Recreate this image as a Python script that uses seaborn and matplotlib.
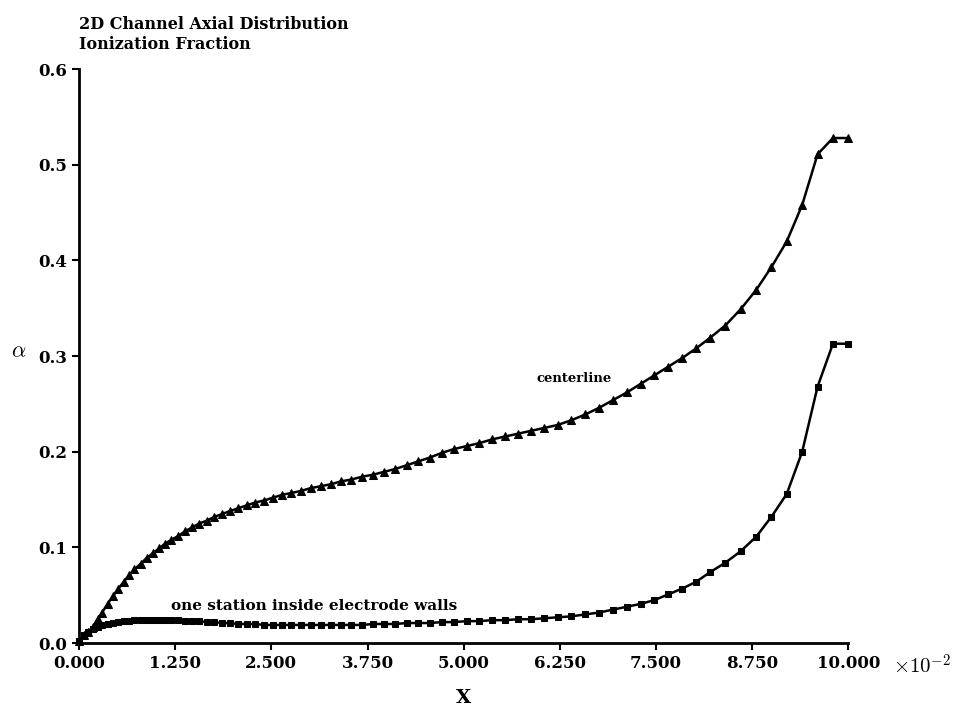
import matplotlib
matplotlib.use("Agg")
import matplotlib.pyplot as plt
import seaborn as sns
import pandas as pd

# x positions (units of 1e-2)
x_grid = [0.00, 0.06, 0.12, 0.18, 0.24, 0.30, 0.37, 0.44, 0.51, 0.58, 0.65, 0.72,
          0.80, 0.88, 0.96, 1.04, 1.12, 1.20, 1.29, 1.38, 1.47, 1.56, 1.66, 1.76,
          1.86, 1.96, 2.07, 2.18, 2.29, 2.40, 2.52, 2.64, 2.76, 2.88, 3.01, 3.14,
          3.27, 3.40, 3.54, 3.68, 3.82, 3.96, 4.11, 4.26, 4.41, 4.56, 4.72, 4.88,
          5.04, 5.20, 5.37, 5.54, 5.71, 5.88, 6.05, 6.22, 6.40, 6.58, 6.76, 6.94,
          7.12, 7.30, 7.48, 7.66, 7.84, 8.02, 8.20, 8.40, 8.60, 8.80, 9.00, 9.20,
          9.40, 9.60, 9.80, 10.00]

centerline = [0.002, 0.008, 0.012, 0.017, 0.025, 0.032, 0.041, 0.049, 0.057, 0.064, 0.071, 0.077,
              0.083, 0.089, 0.094, 0.099, 0.104, 0.108, 0.112, 0.117, 0.121, 0.125, 0.128, 0.132,
              0.135, 0.138, 0.141, 0.144, 0.147, 0.149, 0.152, 0.155, 0.157, 0.159, 0.162, 0.164,
              0.166, 0.169, 0.171, 0.174, 0.176, 0.179, 0.182, 0.186, 0.190, 0.194, 0.199, 0.203,
              0.206, 0.209, 0.213, 0.216, 0.219, 0.222, 0.225, 0.228, 0.233, 0.239, 0.246, 0.254,
              0.262, 0.271, 0.280, 0.289, 0.298, 0.308, 0.319, 0.332, 0.349, 0.369, 0.393, 0.420,
              0.458, 0.511, 0.528, 0.528]

wall_station = [0.002, 0.008, 0.012, 0.015, 0.017, 0.019, 0.020, 0.021, 0.022, 0.023, 0.023, 0.024,
                0.024, 0.024, 0.024, 0.024, 0.024, 0.024, 0.024, 0.023, 0.023, 0.023, 0.022, 0.022,
                0.021, 0.021, 0.020, 0.020, 0.020, 0.019, 0.019, 0.019, 0.019, 0.019, 0.019, 0.019,
                0.019, 0.019, 0.019, 0.019, 0.020, 0.020, 0.020, 0.021, 0.021, 0.021, 0.022, 0.022,
                0.023, 0.023, 0.024, 0.024, 0.025, 0.025, 0.026, 0.027, 0.028, 0.030, 0.032, 0.035,
                0.038, 0.041, 0.045, 0.051, 0.057, 0.064, 0.074, 0.084, 0.096, 0.111, 0.132, 0.156,
                0.200, 0.268, 0.313, 0.313]

x_ticks = [0.0, 1.25, 2.5, 3.75, 5.0, 6.25, 7.5, 8.75, 10.0]
x_tick_labels = ["0.000", "1.250", "2.500", "3.750", "5.000", "6.250", "7.500", "8.750", "10.000"]
y_ticks = [0.0, 0.1, 0.2, 0.3, 0.4, 0.5, 0.6]
y_tick_labels = ["0.0", "0.1", "0.2", "0.3", "0.4", "0.5", "0.6"]

sns.set_style("ticks")
plt.rcParams["font.family"] = ["DejaVu Serif", "DejaVu Sans"]
plt.rcParams["mathtext.fontset"] = "cm"
for k in ["text.color", "axes.labelcolor", "xtick.color", "ytick.color", "axes.edgecolor"]:
    plt.rcParams[k] = "black"

fig = plt.figure(figsize=(9.64, 7.13), dpi=100)
ax = fig.add_axes([0.082, 0.098, 0.798, 0.805])

df_c = pd.DataFrame({"x": x_grid, "y": centerline})
df_w = pd.DataFrame({"x": x_grid, "y": wall_station})

sns.lineplot(data=df_c, x="x", y="y", ax=ax, color="black", linewidth=1.8,
             marker="^", markersize=6, markeredgecolor="black", markerfacecolor="black")
sns.lineplot(data=df_w, x="x", y="y", ax=ax, color="black", linewidth=1.8,
             marker="s", markersize=5, markeredgecolor="black", markerfacecolor="black")

ax.set_xlim(0, 10)
ax.set_ylim(0, 0.6)
ax.set_xticks(x_ticks)
ax.set_xticklabels(x_tick_labels, fontsize=12, fontweight="bold")
ax.set_yticks(y_ticks)
ax.set_yticklabels(y_tick_labels, fontsize=12, fontweight="bold")
ax.tick_params(axis="both", direction="out", length=5, width=1.5, color="black")
for s in ["top", "right"]:
    ax.spines[s].set_visible(False)
for s in ["left", "bottom"]:
    ax.spines[s].set_linewidth(2)
    ax.spines[s].set_color("black")
    ax.spines[s].set_clip_on(False)
for ln in ax.lines:
    ln.set_clip_on(False)

ax.set_xlabel("X", fontsize=14, fontweight="bold", labelpad=12)
ax.set_ylabel(r"$\alpha$", fontsize=16, rotation=0)
ax.yaxis.set_label_coords(-0.078, 0.49)

fig.text(0.926, 0.066, r"$\times10^{-2}$", fontsize=15, ha="left", va="center")

fig.text(0.082, 0.965, "2D Channel Axial Distribution", fontsize=11.5, fontweight="bold",
         ha="left", va="center")
fig.text(0.082, 0.938, "Ionization Fraction", fontsize=11.5, fontweight="bold",
         ha="left", va="center")

ax.text(6.44, 0.277, "centerline", fontsize=9.5, fontweight="bold", ha="center", va="center")
ax.text(3.06, 0.039, "one station inside electrode walls", fontsize=11, fontweight="bold",
        ha="center", va="center")

ax.set_facecolor("white")
fig.patch.set_facecolor("white")
fig.savefig("out.png", dpi=100)
